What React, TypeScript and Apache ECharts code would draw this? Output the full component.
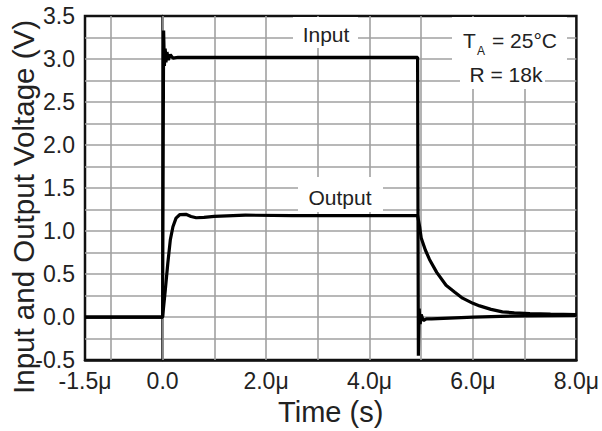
import React, { useEffect, useRef } from "react";
import * as echarts from "echarts";

const FONT = "'Liberation Sans', Arial, Helvetica, sans-serif";

// Time in microseconds, voltage in volts
const inputTime = [-1.5, 0, 0.02, 0.035, 0.05, 0.065, 0.085, 0.11, 0.15, 0.2, 0.3, 4.93, 4.945, 4.96, 4.98, 5.0, 5.04, 5.1, 5.2, 6.0, 7.0, 8.0];
const inputVolt = [0, 0, 3.33, 2.92, 3.12, 2.96, 3.08, 2.99, 3.05, 3.01, 3.02, 3.02, -0.45, 0.1, -0.08, 0.03, -0.04, -0.02, -0.02, 0.0, 0.015, 0.02];

const outputTime = [-1.5, 0, 0.05, 0.1, 0.15, 0.2, 0.26, 0.33, 0.45, 0.55, 0.65, 0.8, 1.0, 1.6, 2.5, 3.5, 4.93, 4.97, 5.0, 5.08, 5.16, 5.3, 5.48, 5.65, 5.8, 6.0, 6.13, 6.35, 6.57, 6.8, 7.1, 7.5, 8.0];
const outputVolt = [0, 0, 0.3, 0.62, 0.9, 1.05, 1.15, 1.19, 1.195, 1.17, 1.155, 1.16, 1.17, 1.185, 1.18, 1.18, 1.18, 1.05, 0.92, 0.78, 0.67, 0.52, 0.37, 0.29, 0.22, 0.16, 0.13, 0.09, 0.06, 0.05, 0.04, 0.035, 0.03];

const xLabelValues = [-1.5, 0, 2, 4, 6, 8];
const xGridValues = [-1, 0, 1, 2, 3, 4, 5, 6, 7];

const GRID_COLOR = "#a0a0a0";
const TEXT_COLOR = "#222";

export default function App() {
  const ref = useRef<HTMLDivElement>(null);

  useEffect(() => {
    document.body.style.margin = "0";
    const chart = echarts.init(ref.current!, null, { renderer: "svg" });
    const inputData = inputTime.map((t, i) => [t, inputVolt[i]]);
    const outputData = outputTime.map((t, i) => [t, outputVolt[i]]);

    chart.setOption({
      animation: false,
      grid: {
        left: 85,
        right: 24,
        top: 16,
        bottom: 70,
        show: true,
        borderColor: "#111",
        borderWidth: 2.5,
        backgroundColor: "#fff",
      },
      xAxis: {
        type: "value",
        min: -1.5,
        max: 8,
        interval: 0.5,
        name: "Time (s)",
        nameLocation: "middle",
        nameGap: 30,
        nameTextStyle: { fontSize: 29, color: TEXT_COLOR, fontFamily: FONT },
        axisLine: { show: true, onZero: false, lineStyle: { color: "#111", width: 2.5 } },
        axisTick: { show: false },
        splitLine: { show: false },
        axisLabel: {
          show: true,
          margin: 9,
          fontSize: 23,
          color: TEXT_COLOR,
          fontFamily: FONT,
          showMinLabel: true,
          showMaxLabel: true,
          formatter: (v: number) => {
            const hit = xLabelValues.some((x) => Math.abs(x - v) < 1e-9);
            if (!hit) return "";
            if (Math.abs(v) < 1e-9) return "0.0";
            return v.toFixed(1) + "μ";
          },
        },
      },
      yAxis: {
        type: "value",
        min: -0.5,
        max: 3.5,
        interval: 0.5,
        axisLine: { show: true, lineStyle: { color: "#111", width: 2.5 } },
        axisTick: { show: false },
        minorTick: { show: false, splitNumber: 2 },
        splitLine: {
          show: true,
          showMinLine: false,
          showMaxLine: false,
          lineStyle: { color: GRID_COLOR, width: 1.6 },
        },
        minorSplitLine: { show: true, lineStyle: { color: GRID_COLOR, width: 1.6 } },
        axisLabel: {
          margin: 10,
          fontSize: 23,
          color: TEXT_COLOR,
          fontFamily: FONT,
          formatter: (v: number) => v.toFixed(1),
        },
      },
      series: [
        {
          name: "grid",
          type: "line",
          data: [],
          silent: true,
          z: 1,
          markLine: {
            silent: true,
            z: 1,
            symbol: ["none", "none"],
            label: { show: false },
            emphasis: { disabled: true },
            lineStyle: { color: GRID_COLOR, width: 1.6, type: "solid" },
            data: xGridValues.map((v) => ({ xAxis: v })),
          },
        },
        {
          name: "Input",
          type: "line",
          data: inputData,
          showSymbol: false,
          symbol: "none",
          z: 3,
          lineStyle: { color: "#000", width: 3.2 },
        },
        {
          name: "Output",
          type: "line",
          data: outputData,
          showSymbol: false,
          symbol: "none",
          z: 3,
          lineStyle: { color: "#000", width: 3.2 },
        },
      ],
      graphic: [
        { type: "rect", z: 5, shape: { x: 293, y: 17, width: 65, height: 31 }, style: { fill: "#fff" } },
        { type: "rect", z: 5, shape: { x: 298, y: 177, width: 85, height: 35 }, style: { fill: "#fff" } },
        { type: "rect", z: 5, shape: { x: 452, y: 17, width: 115, height: 45 }, style: { fill: "#fff" } },
        { type: "rect", z: 5, shape: { x: 460, y: 62, width: 85, height: 27 }, style: { fill: "#fff" } },
        {
          type: "text", z: 6, x: 326, y: 34,
          style: { text: "Input", fontSize: 21, fontFamily: FONT, fill: TEXT_COLOR, align: "center", verticalAlign: "middle" },
        },
        {
          type: "text", z: 6, x: 340, y: 197,
          style: { text: "Output", fontSize: 21, fontFamily: FONT, fill: TEXT_COLOR, align: "center", verticalAlign: "middle" },
        },
        {
          type: "text", z: 6, x: 463, y: 40,
          style: { text: "T", fontSize: 21, fontFamily: FONT, fill: TEXT_COLOR, align: "left", verticalAlign: "middle" },
        },
        {
          type: "text", z: 6, x: 477, y: 51,
          style: { text: "A", fontSize: 12, fontFamily: FONT, fill: TEXT_COLOR, align: "left", verticalAlign: "middle" },
        },
        {
          type: "text", z: 6, x: 492, y: 40,
          style: { text: "= 25°C", fontSize: 21, fontFamily: FONT, fill: TEXT_COLOR, align: "left", verticalAlign: "middle" },
        },
        {
          type: "text", z: 6, x: 506, y: 74,
          style: { text: "R = 18k", fontSize: 21, fontFamily: FONT, fill: TEXT_COLOR, align: "center", verticalAlign: "middle" },
        },
        {
          type: "text", z: 6, x: 23, y: 207, rotation: Math.PI / 2,
          style: { text: "Input and Output Voltage (V)", fontSize: 29.5, fontFamily: FONT, fill: TEXT_COLOR, align: "center", verticalAlign: "middle" },
        },
      ],
    });
    return () => chart.dispose();
  }, []);

  return <div ref={ref} style={{ width: 602, height: 431 }} />;
}
